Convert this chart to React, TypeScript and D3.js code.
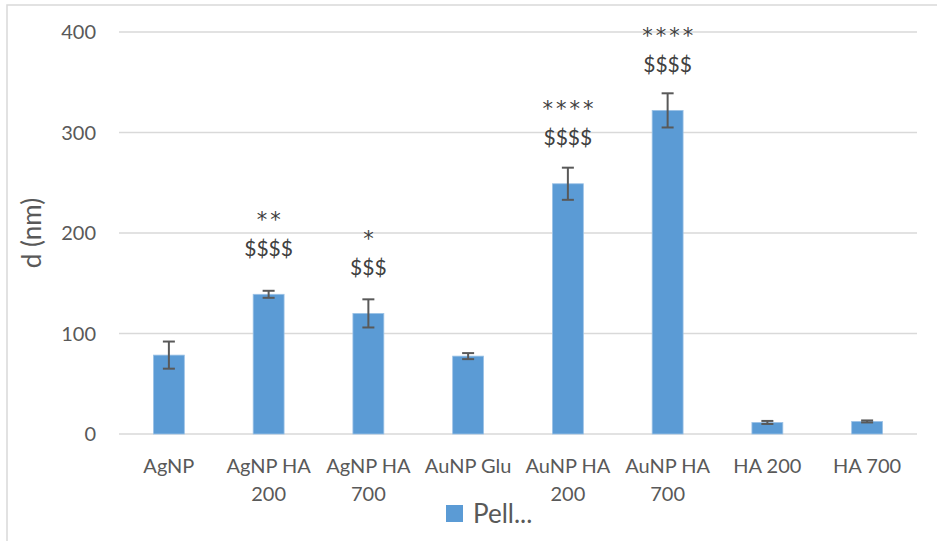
import React, { useEffect, useRef } from "react";
import * as d3 from "d3";

const categories = [
  ["AgNP"],
  ["AgNP HA", "200"],
  ["AgNP HA", "700"],
  ["AuNP Glu"],
  ["AuNP HA", "200"],
  ["AuNP HA", "700"],
  ["HA 200"],
  ["HA 700"],
];
const values = [78.5, 139, 120, 77.5, 249, 322, 11.5, 12.5];
const errors = [13.5, 3.5, 14, 3, 16, 17, 1.5, 1];
const starLabels = ["", "**", "*", "", "****", "****", "", ""];
const dollarLabels = ["", "$$$$", "$$$", "", "$$$$", "$$$$", "", ""];
const yTicks = [0, 100, 200, 300, 400];
const seriesName = "Pell...";

const W = 937;
const H = 541;
const FONT = "Lato, 'Open Sans', sans-serif";
const TEXT = "#595959";

export default function App() {
  const ref = useRef<SVGSVGElement>(null);

  useEffect(() => {
    const svg = d3.select(ref.current);
    svg.selectAll("*").remove();

    // chart frame
    svg.append("rect")
      .attr("x", 7).attr("y", 5)
      .attr("width", W + 10).attr("height", H + 10)
      .attr("fill", "#fff")
      .attr("stroke", "#d9d9d9")
      .attr("stroke-width", 1.5);

    const left = 119, right = 917, top = 32, bottom = 434;

    const x = d3.scaleBand<number>()
      .domain(d3.range(categories.length))
      .range([left, right])
      .paddingInner(0.69)
      .paddingOuter(0.345);

    const y = d3.scaleLinear().domain([0, 400]).range([bottom, top]);

    // gridlines
    svg.append("g")
      .selectAll("line")
      .data(yTicks)
      .enter()
      .append("line")
      .attr("x1", left).attr("x2", right)
      .attr("y1", d => y(d)).attr("y2", d => y(d))
      .attr("stroke", "#d9d9d9")
      .attr("stroke-width", 1.5);

    // y tick labels
    svg.append("g")
      .selectAll("text")
      .data(yTicks)
      .enter()
      .append("text")
      .attr("x", 96)
      .attr("y", d => y(d))
      .attr("dy", "0.35em")
      .attr("text-anchor", "end")
      .attr("font-family", FONT)
      .attr("font-size", 20)
      .attr("fill", TEXT)
      .text(d => d);

    // y axis title
    svg.append("text")
      .attr("transform", `translate(41,${(top + bottom) / 2}) rotate(-90)`)
      .attr("text-anchor", "middle")
      .attr("font-family", FONT)
      .attr("font-size", 26)
      .attr("fill", TEXT)
      .text("d (nm)");

    const idx = d3.range(values.length);

    // bars
    svg.append("g")
      .selectAll("rect")
      .data(idx)
      .enter()
      .append("rect")
      .attr("x", i => x(i)!)
      .attr("y", i => y(values[i]))
      .attr("width", x.bandwidth())
      .attr("height", i => bottom - y(values[i]))
      .attr("fill", "#5b9bd5")
      .attr("stroke", "#9dc3e6")
      .attr("stroke-width", 0.8);

    // error bars
    const eb = svg.append("g")
      .attr("stroke", "#595959")
      .attr("stroke-width", 2);
    idx.forEach(i => {
      const cx = x(i)! + x.bandwidth() / 2;
      const y1 = y(values[i] + errors[i]);
      const y0 = y(values[i] - errors[i]);
      eb.append("line").attr("x1", cx).attr("x2", cx).attr("y1", y1).attr("y2", y0);
      eb.append("line").attr("x1", cx - 6).attr("x2", cx + 6).attr("y1", y1).attr("y2", y1);
      eb.append("line").attr("x1", cx - 6).attr("x2", cx + 6).attr("y1", y0).attr("y2", y0);
    });

    // significance labels
    const lab = svg.append("g")
      .attr("fill", "#404040")
      .attr("text-anchor", "middle");
    idx.forEach(i => {
      const cx = x(i)! + x.bandwidth() / 2;
      const yt = y(values[i]);
      if (dollarLabels[i]) {
        lab.append("text")
          .attr("x", cx).attr("y", yt - 46)
          .attr("dy", "0.35em")
          .attr("font-family", FONT)
          .attr("font-size", 21)
          .text(dollarLabels[i]);
      }
      if (starLabels[i]) {
        lab.append("text")
          .attr("x", cx + 1.5).attr("y", yt - 79)
          .attr("dy", "0.55em")
          .attr("font-family", "'DejaVu Sans', sans-serif")
          .attr("font-size", 21)
          .attr("letter-spacing", 3)
          .text(starLabels[i]);
      }
    });

    // category labels
    const cl = svg.append("g")
      .attr("font-family", FONT)
      .attr("font-size", 20)
      .attr("fill", TEXT)
      .attr("text-anchor", "middle");
    categories.forEach((lines, i) => {
      const cx = x(i)! + x.bandwidth() / 2;
      lines.forEach((ln, k) => {
        cl.append("text")
          .attr("x", cx)
          .attr("y", 466 + k * 28)
          .attr("dy", "0.35em")
          .text(ln);
      });
    });

    // legend
    svg.append("rect")
      .attr("x", 446).attr("y", 505)
      .attr("width", 17).attr("height", 17)
      .attr("fill", "#5b9bd5");
    svg.append("text")
      .attr("x", 473).attr("y", 514)
      .attr("dy", "0.35em")
      .attr("font-family", FONT)
      .attr("font-size", 26)
      .attr("fill", TEXT)
      .text(seriesName);
  }, []);

  return (
    <svg
      ref={ref}
      width={W}
      height={H}
      style={{ position: "absolute", left: 0, top: 0, background: "#fff" }}
    />
  );
}
